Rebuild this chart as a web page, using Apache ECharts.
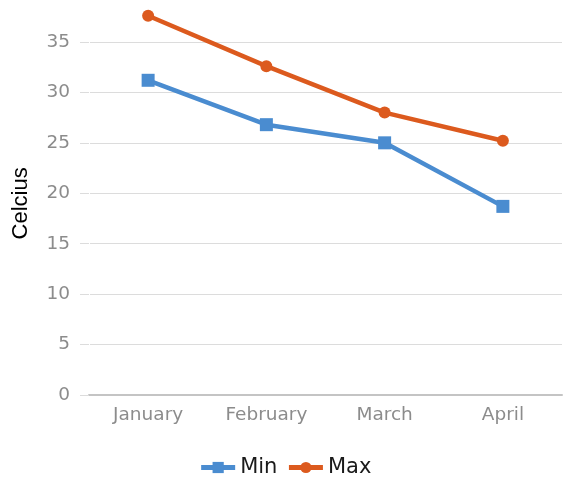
<!DOCTYPE html>
<html>
<head>
<meta charset="utf-8">
<script src="https://cdn.jsdelivr.net/npm/echarts@6/dist/echarts.min.js"></script>
<style>html,body{margin:0;padding:0;background:#fff}#c{width:570px;height:477px}</style>
</head>
<body>
<div id="c"></div>
<script>
var categories = ['January', 'February', 'March', 'April'];
var minValues = [31.2, 26.8, 25.0, 18.7];
var maxValues = [37.6, 32.6, 28.0, 25.2];
var yTicks = [0, 5, 10, 15, 20, 25, 30, 35];

var chart = echarts.init(document.getElementById('c'), null, {renderer: 'canvas'});
chart.setOption({
  animation: false,
  backgroundColor: '#fff',
  grid: {left: 89, right: 8, top: 11.7, bottom: 82, containLabel: false},
  legend: {
    top: 452, left: 'center',
    itemWidth: 34, itemHeight: 14, itemGap: 9,
    lineStyle: {width: 5},
    textStyle: {fontFamily: 'DejaVu Sans', fontSize: 21, color: '#1a1a1a'},
    data: ['Min', 'Max']
  },
  xAxis: {
    type: 'category',
    data: categories,
    boundaryGap: true,
    axisLine: {show: true, lineStyle: {color: '#c4c4c4', width: 2}},
    axisTick: {show: false},
    axisLabel: {margin: 11, fontFamily: 'DejaVu Sans', fontSize: 18.5, color: '#8c8c8c'},
    splitLine: {show: false}
  },
  yAxis: {
    type: 'value',
    min: yTicks[0], max: 38, interval: 5,
    name: 'Celcius',
    nameLocation: 'middle',
    nameGap: 57,
    nameTextStyle: {fontFamily: 'Liberation Sans', fontSize: 22, color: '#000'},
    axisLine: {show: true, lineStyle: {color: '#ffffff', width: 1}},
    axisTick: {show: true, inside: false, length: 9, lineStyle: {color: '#dcdcdc', width: 1}},
    axisLabel: {margin: 19, fontFamily: 'DejaVu Sans', fontSize: 18.5, color: '#8c8c8c', showMaxLabel: false},
    splitLine: {show: true, showMaxLine: false, lineStyle: {color: '#dcdcdc', width: 1}}
  },
  series: [
    {
      name: 'Min', type: 'line', data: minValues,
      symbol: 'rect', symbolSize: 13,
      lineStyle: {color: '#4a8cd0', width: 4.5},
      itemStyle: {color: '#4a8cd0'}
    },
    {
      name: 'Max', type: 'line', data: maxValues,
      symbol: 'circle', symbolSize: 12,
      lineStyle: {color: '#dc5a1e', width: 4.5},
      itemStyle: {color: '#dc5a1e'}
    }
  ]
});
</script>
</body>
</html>
